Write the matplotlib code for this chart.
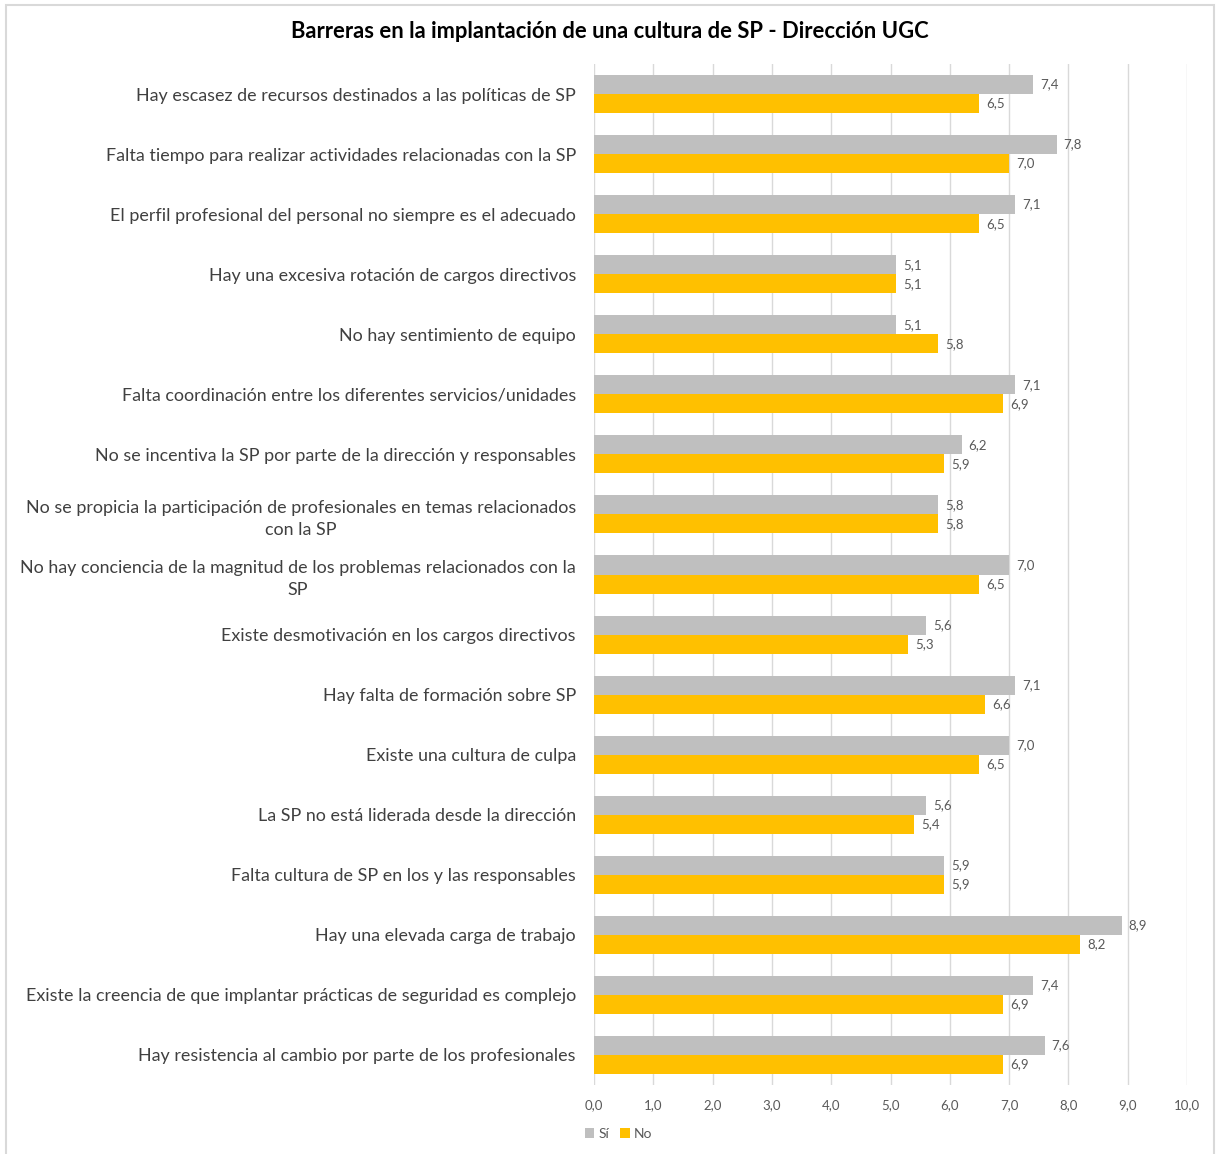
import matplotlib
matplotlib.use("Agg")
import matplotlib.pyplot as plt
from matplotlib.patches import Rectangle
from matplotlib.ticker import FuncFormatter

plt.rcParams['font.family'] = ['Lato', 'DejaVu Sans']

title = "Barreras en la implantación de una cultura de SP - Dirección UGC"

categories = [
    "Hay escasez de recursos destinados a las políticas de SP",
    "Falta tiempo para realizar actividades relacionadas con la SP",
    "El perfil profesional del personal no siempre es el adecuado",
    "Hay una excesiva rotación de cargos directivos",
    "No hay sentimiento de equipo",
    "Falta coordinación entre los diferentes servicios/unidades",
    "No se incentiva la SP por parte de la dirección y responsables",
    "No se propicia la participación de profesionales en temas relacionados\ncon la SP",
    "No hay conciencia de la magnitud de los problemas relacionados con la\nSP",
    "Existe desmotivación en los cargos directivos",
    "Hay falta de formación sobre SP",
    "Existe una cultura de culpa",
    "La SP no está liderada desde la dirección",
    "Falta cultura de SP en los y las responsables",
    "Hay una elevada carga de trabajo",
    "Existe la creencia de que implantar prácticas de seguridad es complejo",
    "Hay resistencia al cambio por parte de los profesionales",
]
si_values = [7.4, 7.8, 7.1, 5.1, 5.1, 7.1, 6.2, 5.8, 7.0, 5.6, 7.1, 7.0, 5.6, 5.9, 8.9, 7.4, 7.6]
no_values = [6.5, 7.0, 6.5, 5.1, 5.8, 6.9, 5.9, 5.8, 6.5, 5.3, 6.6, 6.5, 5.4, 5.9, 8.2, 6.9, 6.9]
series_names = ["Sí", "No"]
x_ticks = [0, 1, 2, 3, 4, 5, 6, 7, 8, 9, 10]

GRAY = "#BFBFBF"
GOLD = "#FFC000"
TXT = "#595959"

fig = plt.figure(figsize=(12.16, 11.54), dpi=100)
fig.patches.append(Rectangle((6 / 1216, -0.01), 1208 / 1216, 1 - 5 / 1154 + 0.01,
                             transform=fig.transFigure, fill=False,
                             edgecolor="#D9D9D9", linewidth=1.5, zorder=0))

ax = fig.add_axes([594 / 1216, 69 / 1154, (1187 - 594) / 1216, (1090 - 69) / 1154])

n = len(categories)
pos = list(range(n))
h = 0.317
si_y = [p - h / 2 for p in pos]
no_y = [p + h / 2 for p in pos]

b1 = ax.barh(si_y, si_values, height=h, color=GRAY, label=series_names[0], zorder=2)
b2 = ax.barh(no_y, no_values, height=h, color=GOLD, label=series_names[1], zorder=2)

fmt = lambda v: f"{v:.1f}".replace(".", ",")
for bars, vals in ((b1, si_values), (b2, no_values)):
    for bar, v in zip(bars, vals):
        ax.annotate(fmt(v), (v, bar.get_y() + bar.get_height() / 2),
                    xytext=(5, 0), textcoords="offset points",
                    ha="left", va="center", fontsize=9.5, color=TXT)

ax.set_xlim(0, 10)
ax.set_ylim(n - 0.5, -0.5)
ax.set_xticks(x_ticks)
ax.xaxis.set_major_formatter(FuncFormatter(lambda v, p: fmt(v)))
ax.set_yticks(pos)
ax.set_yticklabels(categories, fontsize=12.9, color="#404040",
                   multialignment="center", linespacing=1.45)
ax.tick_params(axis="y", length=0, pad=13)
ax.tick_params(axis="x", length=0, pad=10, labelsize=9.5, labelcolor=TXT)
ax.grid(axis="x", color="#D9D9D9", linewidth=1, zorder=0)
ax.set_axisbelow(True)
for s in ax.spines.values():
    s.set_visible(False)

fig.text(610 / 1216, 1 - 32 / 1154, title, ha="center", va="center",
         fontsize=15.8, fontweight="bold", color="black")

leg = fig.legend(handles=[b1, b2], loc="center left",
                 bbox_to_anchor=(572 / 1216, 1 - 1134 / 1154), ncol=2,
                 frameon=False, fontsize=10, handlelength=0.7, handleheight=0.7,
                 handletextpad=0.3, columnspacing=0.8)
for t in leg.get_texts():
    t.set_color(TXT)

fig.savefig("out.png", dpi=100)
